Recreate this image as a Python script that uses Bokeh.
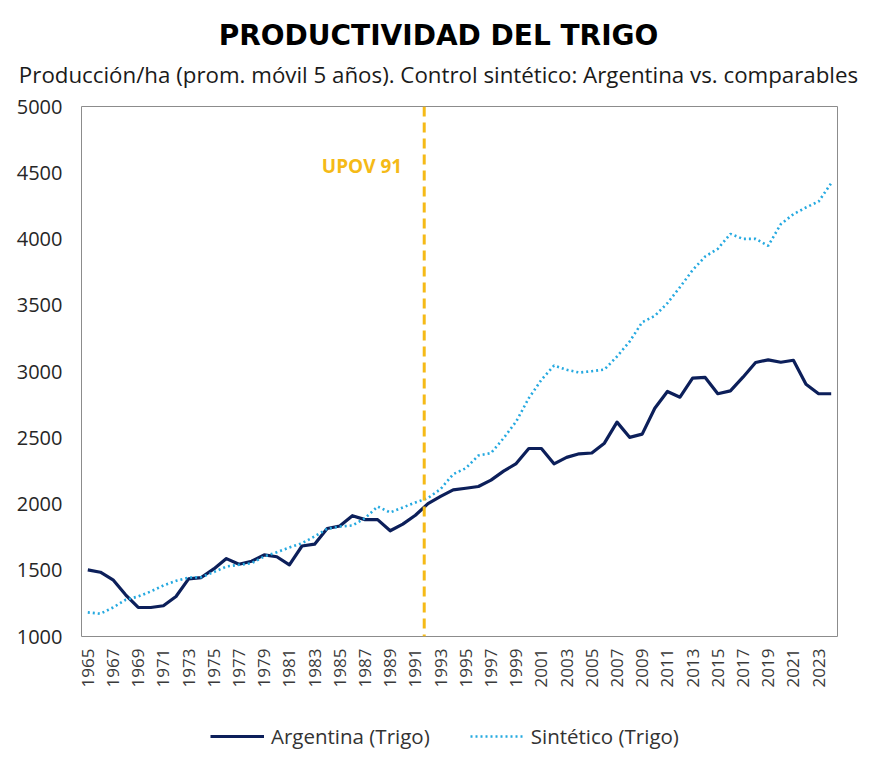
from bokeh.plotting import figure
from bokeh.models import (Range1d, FixedTicker, Span, Label, Legend, LegendItem,
                          ColumnDataSource)
from bokeh.layouts import column
from bokeh.embed import file_html
from bokeh.resources import INLINE
import math

# ---------------- data ----------------
years = list(range(1965, 2025))
argentina = [1503, 1485, 1428, 1315, 1219, 1219, 1232, 1302, 1435, 1445,
             1510, 1588, 1545, 1568, 1616, 1602, 1541, 1683, 1697, 1815,
             1834, 1912, 1882, 1882, 1798, 1848, 1915, 2003, 2057, 2107,
             2119, 2132, 2180, 2248, 2305, 2419, 2419, 2303, 2352, 2379,
             2385, 2459, 2618, 2503, 2527, 2723, 2849, 2806, 2950, 2955,
             2832, 2854, 2957, 3068, 3088, 3070, 3085, 2904, 2832, 2832]
sintetico = [1182, 1172, 1219, 1277, 1302, 1340, 1385, 1420, 1445, 1447,
             1486, 1528, 1541, 1553, 1604, 1636, 1672, 1704, 1755, 1813,
             1830, 1838, 1893, 1981, 1936, 1974, 2011, 2045, 2113, 2225,
             2270, 2366, 2384, 2497, 2623, 2799, 2937, 3045, 3013, 2992,
             3002, 3015, 3113, 3226, 3372, 3420, 3516, 3637, 3765, 3868,
             3926, 4039, 4001, 4001, 3949, 4112, 4187, 4238, 4283, 4421]
x_tick_years = list(range(1965, 2024, 2))
y_ticks = [1000, 1500, 2000, 2500, 3000, 3500, 4000, 4500, 5000]
upov_year = 1991.7
upov_label_value = 4550

title_text = "PRODUCTIVIDAD DEL TRIGO"
subtitle_text = ("Producción/ha (prom. móvil 5 años). Control sintético: "
                 "Argentina vs. comparables")
label_arg = "Argentina (Trigo)"
label_syn = "Sintético (Trigo)"

# ---------------- styles ----------------
NAVY = "#0c1f5a"
LIGHT = "#25a9e0"
GOLD = "#F5BA17"
FONT = "Open Sans"
W = 860
TOP_H = 90
LEG_H = 60


def blank_fig(h, yr):
    f = figure(width=W, height=h, output_backend="svg", toolbar_location=None,
               x_range=Range1d(0, W), y_range=yr,
               x_axis_type=None, y_axis_type=None,
               min_border=0, min_border_left=0, min_border_right=0,
               min_border_top=0, min_border_bottom=0)
    f.frame_align = False
    f.outline_line_color = None
    f.grid.visible = False
    f.background_fill_color = "white"
    f.border_fill_color = "white"
    return f


# ---------------- header (title + subtitle) ----------------
head = blank_fig(TOP_H, Range1d(TOP_H, 0))
head.add_layout(Label(x=438, y=35, text=title_text, text_align="center",
                      text_baseline="middle", text_font="DejaVu Sans",
                      text_font_size="28px", text_font_style="bold",
                      text_color="#000000"))
head.add_layout(Label(x=438, y=74, text=subtitle_text, text_align="center",
                      text_baseline="middle", text_font=FONT,
                      text_font_size="22.3px", text_color="#1a1a1a"))

# ---------------- main chart ----------------
src = ColumnDataSource(dict(year=years, arg=argentina, syn=sintetico))

p = figure(width=W, height=610, output_backend="svg", toolbar_location=None,
           x_range=Range1d(1964.5, 2024.5), y_range=Range1d(1000, 5000),
           min_border_left=81, min_border_right=23, min_border_top=16,
           min_border_bottom=64)
p.frame_align = False
p.outline_line_color = "#8c8c8c"
p.outline_line_width = 1
p.xgrid.visible = False
p.ygrid.visible = False
p.background_fill_color = "white"
p.border_fill_color = "white"

p.xaxis.ticker = FixedTicker(ticks=x_tick_years)
p.xaxis.major_label_orientation = math.pi / 2
p.xaxis.major_label_text_font = FONT
p.xaxis.major_label_text_font_size = "17px"
p.xaxis.major_label_text_color = "#3a3a3a"
p.xaxis.major_label_standoff = 12
p.yaxis.ticker = FixedTicker(ticks=y_ticks)
p.yaxis.major_label_text_font = FONT
p.yaxis.major_label_text_font_size = "20px"
p.yaxis.major_label_text_color = "#262626"
p.yaxis.major_label_standoff = 19
for ax in (p.xaxis, p.yaxis):
    ax.axis_line_color = None
    ax.major_tick_line_color = None
    ax.minor_tick_line_color = None
    ax.major_tick_out = 0
    ax.major_tick_in = 0
    ax.minor_tick_out = 0

arg_style = dict(line_color=NAVY, line_width=3.2, line_join="round")
syn_style = dict(line_color=LIGHT, line_width=2.6, line_dash="2 3")
p.line("year", "arg", source=src, **arg_style)
p.line("year", "syn", source=src, **syn_style)

p.add_layout(Span(location=upov_year, dimension="height", line_color=GOLD,
                  line_width=3, line_dash="10 6"))
p.add_layout(Label(x=upov_year, y=upov_label_value, text="UPOV 91",
                   x_offset=-22, text_align="right", text_baseline="middle",
                   text_color=GOLD, text_font=FONT, text_font_style="bold",
                   text_font_size="19px"))

# ---------------- legend strip ----------------
# the legend's lines reuse the same series; they fall outside this strip's
# ranges, so only the legend samples are visible here
foot = blank_fig(LEG_H, Range1d(0, LEG_H))
g_arg = foot.line("year", "arg", source=src, **arg_style)
g_syn = foot.line("year", "syn", source=src, **syn_style)
legend = Legend(items=[LegendItem(label=label_arg, renderers=[g_arg]),
                       LegendItem(label=label_syn, renderers=[g_syn])],
                orientation="horizontal", location=(210, 10),
                glyph_width=54, glyph_height=20, label_standoff=7,
                spacing=40, padding=4, margin=0,
                label_text_font=FONT, label_text_font_size="20.5px",
                label_text_color="#333333",
                border_line_color=None, background_fill_alpha=0)
foot.add_layout(legend, "center")

layout = column(head, p, foot, spacing=0)
open("out.html", "w").write(file_html(layout, INLINE))
